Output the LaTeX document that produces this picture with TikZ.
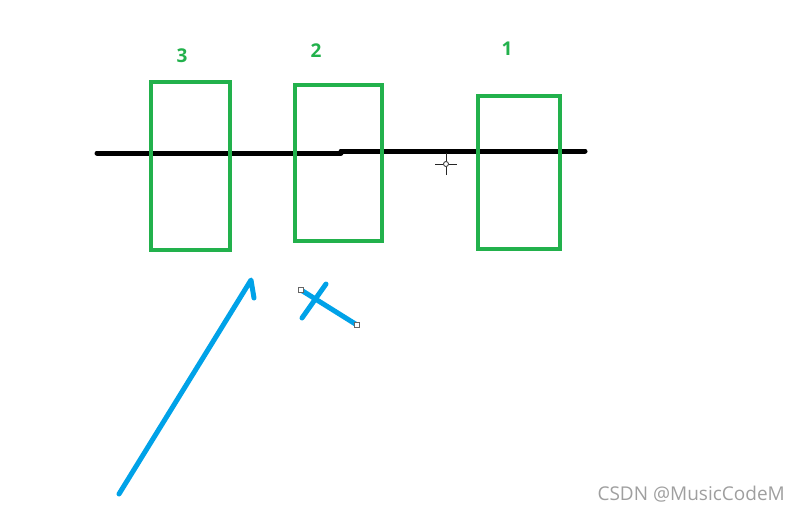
\documentclass[tikz,border=0pt]{standalone}
\usepackage{fontspec}
\setmainfont{Open Sans}
\newfontfamily\markfont{Open Sans}
\definecolor{paintgreen}{HTML}{22B14C}
\definecolor{paintblue}{HTML}{00A2E8}
\tikzset{
	frame/.style={draw=paintgreen, line width=4pt},
	num/.style={text=paintgreen, font=\bfseries\fontsize{19}{19}\selectfont, inner sep=0pt},
	stroke/.style={draw=paintblue, line width=5pt, line cap=round, line join=round},
	handle/.style={draw=gray!80!black, fill=white, line width=0.8pt, minimum size=5pt, inner sep=0pt},
}
\begin{document}
\begin{tikzpicture}[x=1pt,y=-1pt]
	\useasboundingbox (0,0) rectangle (799,512);
	% black bar
	\coordinate (L0) at (97,153);
	\coordinate (L1) at (341,153);
	\coordinate (R0) at (341,151);
	\coordinate (R1) at (585,151);
	\draw[line width=5pt, line cap=round] (L0) -- (L1);
	\draw[line width=5pt, line cap=round] (R0) -- (R1);

	% boxes and labels
	\draw[frame] (151,82) rectangle (230,250);
	\draw[frame] (295,85) rectangle (382,241);
	\draw[frame] (478,96) rectangle (560,249);
	\node[num] (n3) at (182,56) {3};
	\node[num] (n2) at (316,51) {2};
	\node[num] (n1) at (507,49) {1};

	% arrow
	\coordinate (a0) at (119,494);
	\coordinate (a1) at (251,280);
	\coordinate (a2) at (254,298);
	\draw[stroke] (a0) -- (a1) -- (a2);

	% cross
	\coordinate (c0) at (301,290);
	\coordinate (c1) at (357,325);
	\coordinate (c2) at (326,284);
	\coordinate (c3) at (302,318);
	\draw[stroke] (c0) -- (c1);
	\draw[stroke] (c2) -- (c3);
	\node[handle] (h0) at (c0) {};
	\node[handle] (h1) at (c1) {};

	% cursor
	\coordinate (k) at (446,164);
	\draw[gray!30!black, line width=1pt] ([xshift=-11pt]k) -- ([xshift=-3pt]k) ([xshift=3pt]k) -- ([xshift=11pt]k)
		([yshift=-11pt]k) -- ([yshift=-3pt]k) ([yshift=3pt]k) -- ([yshift=11pt]k);
	\draw[gray!30!black, line width=0.8pt] (k) circle (2.5pt);

	% watermark
	\node[anchor=east, text=gray!75, font=\markfont\fontsize{19}{19}\selectfont, inner sep=0pt] (wm) at (785,494) {CSDN @MusicCodeM};
\end{tikzpicture}
\end{document}
